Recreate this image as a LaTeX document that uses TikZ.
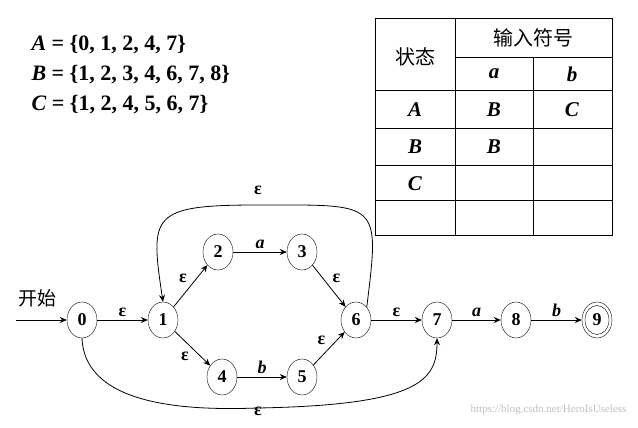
\documentclass[tikz,border=0pt]{standalone}
\usepackage{fontspec}
\setmainfont{Liberation Serif}
\newfontfamily\cjk{Noto Sans CJK SC}
\usetikzlibrary{arrows.meta,shapes.geometric}
\begin{document}
\begin{tikzpicture}[x=1pt,y=-1pt,
  st/.style={draw,ellipse,minimum width=30pt,minimum height=36pt,inner sep=0pt,font=\bfseries\fontsize{18}{20}\selectfont},
  ed/.style={-{Stealth[length=7pt,width=6pt]},thick},
  lb/.style={font=\bfseries\fontsize{18}{20}\selectfont},
  tb/.style={font=\bfseries\fontsize{21}{24}\selectfont},
  big/.style={font=\bfseries\fontsize{22}{26}\selectfont}]
\useasboundingbox (0,0) rectangle (638,428);
% sets
\node[anchor=west,big] (sa) at (28,45) {\textit{A} = \{0, 1, 2, 4, 7\}};
\node[anchor=west,big] (sb) at (28,75) {\textit{B} = \{1, 2, 3, 4, 6, 7, 8\}};
\node[anchor=west,big] (sc) at (28,105) {\textit{C} = \{1, 2, 4, 5, 6, 7\}};
% table
\draw[thick] (375,18) rectangle (612,235);
\draw (455,57) -- (612,57);
\draw (375,90) -- (612,90);
\foreach \y in {128,165,200} \draw (375,\y) -- (612,\y);
\draw (455,18) -- (455,235);
\draw (533,57) -- (533,235);
\node[font=\cjk\fontsize{20}{24}\selectfont] (h1) at (415,57) {状态};
\node[font=\cjk\fontsize{20}{24}\selectfont] (h2) at (533,38) {输入符号};
\node[tb] (ha) at (494,74) {\textit{a}};
\node[tb] (hb) at (572,74) {\textit{b}};
\node[tb] (rA) at (415,110) {\textit{A}};
\node[tb] (rAa) at (494,110) {\textit{B}};
\node[tb] (rAb) at (572,110) {\textit{C}};
\node[tb] (rB) at (415,147) {\textit{B}};
\node[tb] (rBa) at (494,147) {\textit{B}};
\node[tb] (rC) at (415,184) {\textit{C}};
% states
\node[st] (n0) at (82,320) {0};
\node[st] (n1) at (163,320) {1};
\node[st] (n2) at (218,252) {2};
\node[st] (n3) at (302,252) {3};
\node[st] (n4) at (222,377) {4};
\node[st] (n5) at (302,377) {5};
\node[st] (n6) at (356,320) {6};
\node[st] (n7) at (437,320) {7};
\node[st] (n8) at (516,320) {8};
\node[st] (n9) at (597,320) {9};
\node[draw,ellipse,minimum width=24pt,minimum height=29pt] (n9i) at (597,320) {};
\coordinate (start) at (16,320);
\node[font=\cjk\fontsize{19}{22}\selectfont] (ks) at (38,298) {开始};
\draw[ed] (start) -- (n0);
\draw[ed] (n0) -- node[lb,above]{ε} (n1);
\draw[ed] (n1) -- node[lb,above left]{ε} (n2);
\draw[ed] (n1) -- node[lb,below left]{ε} (n4);
\draw[ed] (n2) -- node[lb,above]{\textit{a}} (n3);
\draw[ed] (n4) -- node[lb,above]{\textit{b}} (n5);
\draw[ed] (n3) -- node[lb,above right]{ε} (n6);
\draw[ed] (n5) -- node[lb,above left]{ε} (n6);
\draw[ed] (n6) -- node[lb,above]{ε} (n7);
\draw[ed] (n7) -- node[lb,above]{\textit{a}} (n8);
\draw[ed] (n8) -- node[lb,above]{\textit{b}} (n9);
\draw[ed] (n6.north east) .. controls (380,200) and (380,205) .. (258,205) .. controls (150,205) and (150,215) .. (n1.north);
\node[lb] (e1) at (258,190) {ε};
\draw[ed] (n0.south) .. controls (85,410) and (200,410) .. (258,408) .. controls (420,405) and (437,380) .. (n7.south);
\node[lb] (e2) at (258,411) {ε};
\node[anchor=east,font=\fontsize{11}{13}\selectfont,text=gray!50] (wm) at (630,410) {https://blog.csdn.net/HeroIsUseless};
\end{tikzpicture}
\end{document}
